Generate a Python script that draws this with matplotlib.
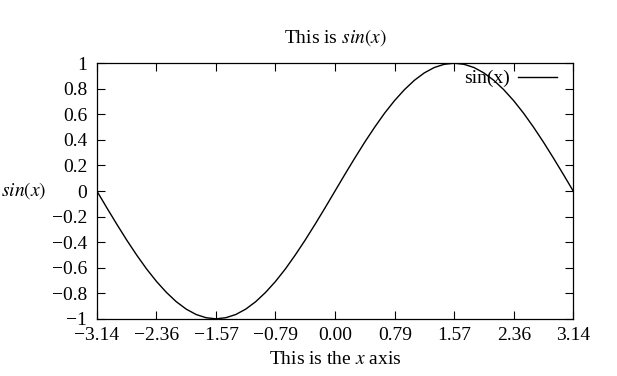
import matplotlib
matplotlib.use("Agg")
import matplotlib.pyplot as plt

plt.rcParams['font.family'] = ['Liberation Serif', 'DejaVu Serif']
plt.rcParams['mathtext.fontset'] = 'stix'

# values
x_vals = [-3.142, -3.011, -2.880, -2.749, -2.618, -2.487, -2.356, -2.225,
          -2.094, -1.963, -1.833, -1.702, -1.571, -1.440, -1.309, -1.178,
          -1.047, -0.916, -0.785, -0.654, -0.524, -0.393, -0.262, -0.131,
          0.000, 0.131, 0.262, 0.393, 0.524, 0.654, 0.785, 0.916, 1.047,
          1.178, 1.309, 1.440, 1.571, 1.702, 1.833, 1.963, 2.094, 2.225,
          2.356, 2.487, 2.618, 2.749, 2.880, 3.011, 3.142]
y_vals = [0.000, -0.131, -0.259, -0.383, -0.500, -0.609, -0.707, -0.793,
          -0.866, -0.924, -0.966, -0.991, -1.000, -0.991, -0.966, -0.924,
          -0.866, -0.793, -0.707, -0.609, -0.500, -0.383, -0.259, -0.131,
          0.000, 0.131, 0.259, 0.383, 0.500, 0.609, 0.707, 0.793, 0.866,
          0.924, 0.966, 0.991, 1.000, 0.991, 0.966, 0.924, 0.866, 0.793,
          0.707, 0.609, 0.500, 0.383, 0.259, 0.131, 0.000]

x_ticks = [-3.14, -2.36, -1.57, -0.79, 0.00, 0.79, 1.57, 2.36, 3.14]
x_tick_labels = ['\u22123.14', '\u22122.36', '\u22121.57', '\u22120.79', '0.00',
                 '0.79', '1.57', '2.36', '3.14']
y_ticks = [-1, -0.8, -0.6, -0.4, -0.2, 0, 0.2, 0.4, 0.6, 0.8, 1]
y_tick_labels = ['\u22121', '\u22120.8', '\u22120.6', '\u22120.4', '\u22120.2', '0',
                 '0.2', '0.4', '0.6', '0.8', '1']

fig = plt.figure(figsize=(6.17, 3.76), dpi=100)
ax = fig.add_axes([0.157, 0.152, 0.772, 0.680])

ax.plot(x_vals, y_vals, color='black', linewidth=1.0, label='sin(x)')

ax.set_xlim(x_vals[0], x_vals[-1])
ax.set_ylim(-1, 1)
ax.set_xticks(x_ticks)
ax.set_xticklabels(x_tick_labels)
ax.set_yticks(y_ticks)
ax.set_yticklabels(y_tick_labels)
ax.tick_params(direction='in', length=6, width=0.8, top=True, right=True,
               labelsize=14)
ax.tick_params(axis='y', pad=7)
ax.tick_params(axis='x', pad=6)
for s in ax.spines.values():
    s.set_linewidth(0.9)

ax.set_title('This is $sin(x)$', fontsize=14, pad=15)
ax.set_xlabel('This is the $x$ axis', fontsize=14, labelpad=5)
ax.set_ylabel('$sin(x)$', fontsize=14, rotation=0, labelpad=20, va='center')

ax.legend(loc='upper right', bbox_to_anchor=(0.99, 1.02), markerfirst=False,
          frameon=False, fontsize=14, handlelength=2.0, handletextpad=0.4,
          borderaxespad=0.5, borderpad=0.1)

fig.savefig('out.png', dpi=100)
